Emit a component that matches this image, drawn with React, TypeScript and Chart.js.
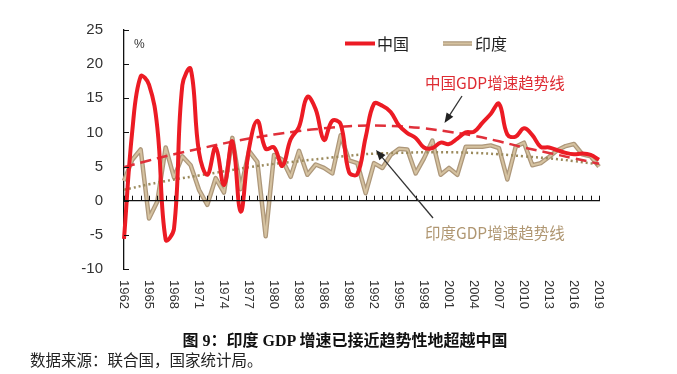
import React, { useEffect, useRef } from "react";
import { Chart, registerables } from "chart.js";

Chart.register(...registerables);

const years: string[] = [];
for (let y = 1962; y <= 2019; y++) years.push(String(y));

const chinaGrowth = [
  -5.6, 10.3, 18.2, 17.0, 10.7, -5.7, -4.1, 16.9, 19.3, 7.1,
  3.8, 7.8, 2.3, 8.7, -1.6, 7.6, 11.7, 7.6, 7.8, 5.1,
  9.0, 10.8, 15.2, 13.4, 8.9, 11.7, 11.2, 4.2, 3.9, 9.3,
  14.2, 13.9, 13.0, 11.0, 9.9, 9.2, 7.8, 7.7, 8.5, 8.3,
  9.1, 10.0, 10.1, 11.4, 12.7, 14.2, 9.7, 9.4, 10.6, 9.6,
  7.9, 7.8, 7.4, 7.0, 6.8, 6.9, 6.7, 6.0,
];

const indiaGrowth = [
  2.9, 6.0, 7.5, -2.6, -0.1, 7.8, 3.4, 6.5, 5.2, 1.6,
  -0.6, 3.3, 1.2, 9.2, 1.7, 7.3, 5.7, -5.2, 6.7, 6.0,
  3.5, 7.3, 3.8, 5.3, 4.8, 4.0, 9.6, 5.9, 5.5, 1.1,
  5.5, 4.8, 6.7, 7.6, 7.5, 4.0, 6.2, 8.8, 3.8, 4.8,
  3.8, 7.9, 7.9, 7.9, 8.1, 7.7, 3.1, 7.9, 8.5, 5.2,
  5.5, 6.4, 7.4, 8.0, 8.3, 6.8, 6.5, 5.0,
];

const trendYears = [
  "1962", "1965", "1968", "1971", "1974", "1977", "1980", "1983", "1986", "1989",
  "1992", "1995", "1998", "2001", "2004", "2007", "2010", "2013", "2016", "2019",
];
const chinaTrend = [4.9, 5.9, 6.8, 7.6, 8.4, 9.1, 9.7, 10.2, 10.6, 10.9, 11.0, 10.9, 10.6, 10.1, 9.5, 8.7, 7.8, 7.0, 6.2, 5.4];
const indiaTrend = [1.6, 2.4, 3.1, 3.7, 4.3, 4.9, 5.4, 5.8, 6.2, 6.6, 6.9, 7.0, 7.1, 7.1, 7.0, 6.8, 6.5, 6.2, 5.8, 5.3];

const yTicks = [-10, -5, 0, 5, 10, 15, 20, 25];
const seriesNames = ["中国", "印度"];
const chinaTrendLabel = "中国GDP增速趋势线";
const indiaTrendLabel = "印度GDP增速趋势线";
const captionTitle = "图 9：印度 GDP 增速已接近趋势性地超越中国";
const captionSource = "数据来源：联合国，国家统计局。";

const RED = "#ec1b24";
const TAN_OUT = "#ad977a";
const TAN_IN = "#d5c2a0";
const CJK = '"Noto Sans CJK SC", "Noto Sans", sans-serif';
const LAT = '"Liberation Sans", Arial, sans-serif';

function sparse(vals: number[]): (number | null)[] {
  return years.map((y) => {
    const i = trendYears.indexOf(y);
    return i >= 0 ? vals[i] : null;
  });
}

function arrow(ctx: CanvasRenderingContext2D, x1: number, y1: number, x2: number, y2: number) {
  const a = Math.atan2(y2 - y1, x2 - x1);
  const L = 10, W = 4;
  ctx.save();
  ctx.strokeStyle = "#333";
  ctx.fillStyle = "#222";
  ctx.lineWidth = 1.3;
  ctx.beginPath();
  ctx.moveTo(x1, y1);
  ctx.lineTo(x2 - Math.cos(a) * L * 0.8, y2 - Math.sin(a) * L * 0.8);
  ctx.stroke();
  ctx.beginPath();
  ctx.moveTo(x2, y2);
  ctx.lineTo(x2 - Math.cos(a) * L - Math.sin(a) * W, y2 - Math.sin(a) * L + Math.cos(a) * W);
  ctx.lineTo(x2 - Math.cos(a) * L + Math.sin(a) * W, y2 - Math.sin(a) * L - Math.cos(a) * W);
  ctx.closePath();
  ctx.fill();
  ctx.restore();
}

const decor = {
  id: "decor",
  afterDatasetsDraw(chart: any) {
    const ctx: CanvasRenderingContext2D = chart.ctx;
    const xs = chart.scales.x;
    const ys = chart.scales.y;
    const area = chart.chartArea;
    const y0 = ys.getPixelForValue(0);
    ctx.save();
    ctx.strokeStyle = "#111";
    ctx.lineWidth = 1.3;
    ctx.beginPath();
    ctx.moveTo(area.left, y0);
    ctx.lineTo(area.right + 1, y0);
    ctx.stroke();
    ctx.lineWidth = 1;
    years.forEach((_, i) => {
      const x = Math.round(xs.getPixelForValue(i)) + 0.5;
      ctx.beginPath();
      ctx.moveTo(x, y0);
      ctx.lineTo(x, y0 - 5);
      ctx.stroke();
    });
    yTicks.forEach((v) => {
      const y = Math.round(ys.getPixelForValue(v)) + 0.5;
      ctx.beginPath();
      ctx.moveTo(area.left, y);
      ctx.lineTo(area.left + 5, y);
      ctx.stroke();
    });
    ctx.fillStyle = "#333";
    ctx.font = `13px ${LAT}`;
    ctx.textAlign = "left";
    ctx.textBaseline = "middle";
    years.forEach((y, i) => {
      if (trendYears.indexOf(y) < 0) return;
      const x = xs.getPixelForValue(i);
      ctx.save();
      ctx.translate(x, area.bottom + 11);
      ctx.rotate(Math.PI / 2);
      ctx.fillText(y, 0, 0);
      ctx.restore();
    });
    ctx.font = `12px ${LAT}`;
    ctx.fillStyle = "#333";
    ctx.textAlign = "left";
    ctx.fillText("%", area.left + 10, area.top + 15);
    ctx.lineCap = "butt";
    ctx.strokeStyle = RED;
    ctx.lineWidth = 4;
    ctx.beginPath();
    ctx.moveTo(345, 43.5);
    ctx.lineTo(375, 43.5);
    ctx.stroke();
    ctx.strokeStyle = TAN_OUT;
    ctx.lineWidth = 4.5;
    ctx.beginPath();
    ctx.moveTo(443, 43.5);
    ctx.lineTo(472, 43.5);
    ctx.stroke();
    ctx.strokeStyle = TAN_IN;
    ctx.lineWidth = 2;
    ctx.beginPath();
    ctx.moveTo(443, 43.5);
    ctx.lineTo(472, 43.5);
    ctx.stroke();
    ctx.font = `16px ${CJK}`;
    ctx.fillStyle = "#222";
    ctx.textBaseline = "middle";
    ctx.fillText(seriesNames[0], 377, 44);
    ctx.fillText(seriesNames[1], 475, 44);
    ctx.font = `15.5px ${CJK}`;
    ctx.fillStyle = "#de2c33";
    ctx.fillText(chinaTrendLabel, 425, 83);
    ctx.fillStyle = "#b09772";
    ctx.fillText(indiaTrendLabel, 425, 233);
    ctx.restore();
    arrow(ctx, 462, 96, 444.5, 123);
    arrow(ctx, 433, 218, 376, 150);
  },
};

export default function App() {
  const ref = useRef<HTMLCanvasElement | null>(null);
  useEffect(() => {
    if (!ref.current) return;
    const chart = new Chart(ref.current, {
      type: "line",
      data: {
        labels: years,
        datasets: [
          {
            label: seriesNames[0],
            data: chinaGrowth,
            borderColor: RED,
            borderWidth: 4,
            borderJoinStyle: "round",
            tension: 0.4,
            pointRadius: 0,
            order: 0,
          },
          {
            label: chinaTrendLabel,
            data: sparse(chinaTrend),
            borderColor: "#e0303a",
            borderWidth: 2.5,
            borderDash: [11, 6],
            spanGaps: true,
            tension: 0.4,
            pointRadius: 0,
            order: 1,
          },
          {
            label: indiaTrendLabel,
            data: sparse(indiaTrend),
            borderColor: "#9b8a5c",
            borderWidth: 2.5,
            borderDash: [2, 3],
            spanGaps: true,
            tension: 0.4,
            pointRadius: 0,
            order: 2,
          },
          {
            label: seriesNames[1],
            data: indiaGrowth,
            borderColor: TAN_IN,
            borderWidth: 2,
            borderJoinStyle: "round",
            tension: 0,
            pointRadius: 0,
            order: 3,
          },
          {
            label: seriesNames[1] + "_edge",
            data: indiaGrowth,
            borderColor: TAN_OUT,
            borderWidth: 4.5,
            borderJoinStyle: "round",
            tension: 0,
            pointRadius: 0,
            order: 4,
          },
        ],
      },
      options: {
        animation: false,
        responsive: false,
        maintainAspectRatio: false,
        layout: { padding: { top: 20, bottom: 49, right: 78, left: 0 } },
        plugins: { legend: { display: false }, tooltip: { enabled: false } },
        scales: {
          x: { type: "category", display: false, offset: false },
          y: {
            min: -10,
            max: 25,
            afterBuildTicks: (s: any) => {
              s.ticks = yTicks.map((v) => ({ value: v }));
            },
            afterFit: (s: any) => {
              s.width = 124;
            },
            grid: { drawOnChartArea: false, drawTicks: false },
            border: { display: true, color: "#111", width: 1.3 },
            ticks: {
              padding: 21,
              color: "#333",
              font: { size: 15, family: LAT },
              callback: (v: any) => String(v),
            },
          },
        },
      },
      plugins: [decor],
    });
    return () => chart.destroy();
  }, []);
  return (
    <div style={{ position: "fixed", left: 0, top: 0, width: 677, height: 374, background: "#fff" }}>
      <canvas ref={ref} width={677} height={318} style={{ position: "absolute", left: 0, top: 0 }} />
      <div
        style={{
          position: "absolute",
          left: 0,
          width: 690,
          top: 327,
          textAlign: "center",
          fontFamily: '"Liberation Serif", "Noto Sans CJK SC", serif',
          fontWeight: "bold",
          fontSize: 16,
          color: "#111",
          whiteSpace: "nowrap",
        }}
      >
        {captionTitle}
      </div>
      <div
        style={{
          position: "absolute",
          left: 30,
          top: 348,
          fontFamily: '"Liberation Serif", "Noto Sans CJK SC", serif',
          fontSize: 15.5,
          color: "#222",
          whiteSpace: "nowrap",
        }}
      >
        {captionSource}
      </div>
    </div>
  );
}
